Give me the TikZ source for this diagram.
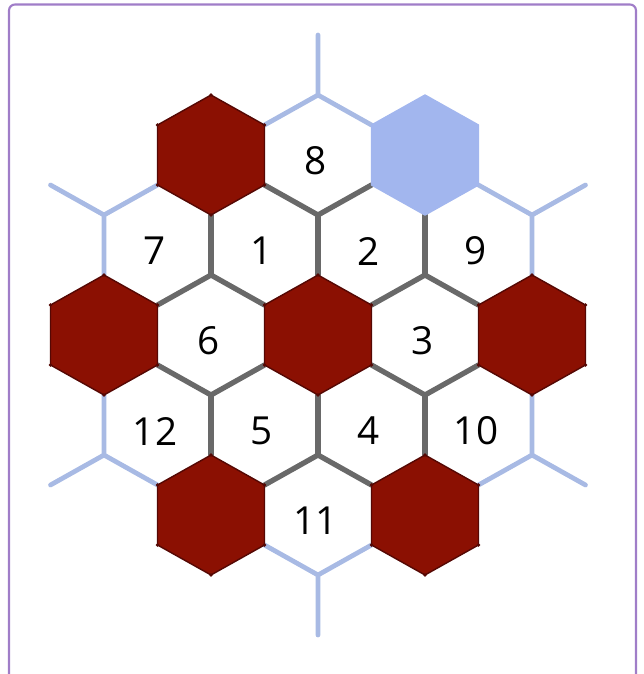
\documentclass[tikz,border=0pt]{standalone}
\usepackage{fontspec}
\setmainfont{Open Sans}
\definecolor{blockred}{RGB}{139,16,2}
\definecolor{blockedge}{RGB}{85,8,4}
\definecolor{goalblue}{RGB}{162,182,238}
\definecolor{rimblue}{RGB}{168,186,228}
\definecolor{wallgray}{RGB}{105,105,105}
\definecolor{framepurple}{RGB}{160,125,200}
\begin{document}
\begin{tikzpicture}[
    x=5.35mm, y=-3mm,
    frame/.style={draw=framepurple, line width=0.6pt, rounded corners=0.6mm},
    wall/.style={draw=wallgray, line width=1.5pt, line cap=round},
    rim/.style={draw=rimblue, line width=1.35pt, line cap=round},
    block/.style={fill=blockred, draw=blockedge, line width=0.4pt, line join=round},
    goal/.style={fill=goalblue, draw=goalblue, line width=0.4pt, line join=round},
    num/.style={font=\fontsize{11}{13}\selectfont, inner sep=0pt, xshift=-0.25mm, yshift=-0.6mm}
]
\clip (-5.944,-11.167) rectangle (6.093,11.3);
\useasboundingbox (-5.944,-11.167) rectangle (6.093,11.3);
\draw[frame] (-5.776,-11.017) rectangle (5.944,12.2);

% inner walls
\foreach \p/\q in {{-1,-5}/{0,-4}, {1,-5}/{0,-4}, {0,-4}/{0,-2}, {-2,-4}/{-2,-2}, {2,-4}/{2,-2},
                   {-2,-2}/{-3,-1}, {-2,-2}/{-1,-1}, {2,-2}/{1,-1}, {2,-2}/{3,-1},
                   {-3,1}/{-2,2}, {-1,1}/{-2,2}, {1,1}/{2,2}, {3,1}/{2,2},
                   {-2,2}/{-2,4}, {0,2}/{0,4}, {2,2}/{2,4}, {0,4}/{-1,5}, {0,4}/{1,5}}{
  \draw[wall] (\p) -- (\q);
}

% outer rim
\draw[rim] (-1,-7) -- (0,-8) -- (1,-7) (0,-8) -- (0,-10);
\draw[rim] (-1,7) -- (0,8) -- (1,7) (0,8) -- (0,10);
\foreach \s in {-1,1}{
  \draw[rim] (3*\s,-5) -- (4*\s,-4) -- (4*\s,-2) (4*\s,-4) -- (5*\s,-5);
  \draw[rim] (3*\s,5) -- (4*\s,4) -- (4*\s,2) (4*\s,4) -- (5*\s,5);
}

% blocked cells
\foreach \c/\r in {-2/-6, -4/0, 0/0, 4/0, -2/6, 2/6}{
  \draw[block] (\c,\r-2) -- (\c+1,\r-1) -- (\c+1,\r+1) -- (\c,\r+2) -- (\c-1,\r+1) -- (\c-1,\r-1) -- cycle;
  \foreach \dx/\dy in {0/-2, 1/-1, 1/1, 0/2, -1/1, -1/-1}{
    \fill[blockedge] (\c+\dx,\r+\dy) circle (0.18mm);
  }
}
% target cell
\draw[goal] (2,-8) -- (3,-7) -- (3,-5) -- (2,-4) -- (1,-5) -- (1,-7) -- cycle;

% cell numbers
\foreach \n/\c/\r in {8/0/-6, 7/-3/-3, 1/-1/-3, 2/1/-3, 9/3/-3, 6/-2/0, 3/2/0,
                      12/-3/3, 5/-1/3, 4/1/3, 10/3/3, 11/0/6}{
  \node[num] (cell\n) at (\c,\r) {\n};
}
\end{tikzpicture}
\end{document}
